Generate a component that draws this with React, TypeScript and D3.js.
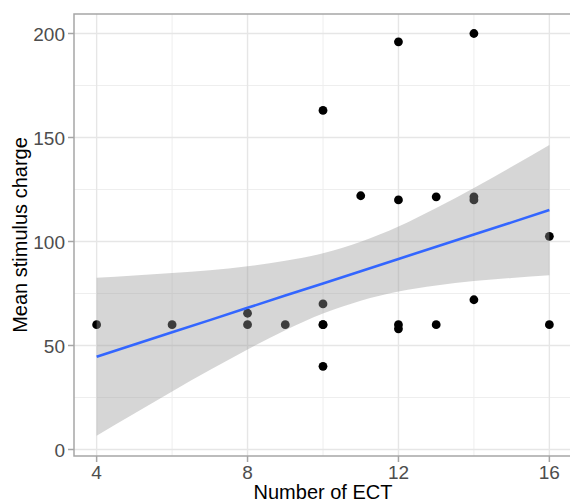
import React from "react";
import * as d3 from "d3";

// Observed points (Number of ECT, Mean stimulus charge)
const ectX = [4, 6, 8, 8, 9, 10, 10, 10, 10, 10, 11, 12, 12, 12, 12, 13, 13, 14, 14, 14, 14, 16, 16];
const chargeY = [60, 60, 60, 65.5, 60, 163, 70, 60, 60, 40, 122, 196, 120, 60, 58, 121.5, 60, 200, 121.5, 120, 72, 102.5, 60];

// Fitted line and confidence band
const fitX = [4, 5, 6, 7, 8, 9, 10, 11, 12, 13, 14, 15, 16];
const fitY = [44.6, 50.5, 56.35, 62.2, 68.1, 74.0, 79.85, 85.7, 91.6, 97.5, 103.35, 109.2, 115.1];
const bandLo = [6.6, 17.3, 27.9, 38.2, 48.1, 57.3, 65.35, 71.55, 76.0, 78.9, 80.95, 82.5, 83.8];
const bandHi = [82.6, 83.7, 84.9, 86.2, 88.1, 90.7, 94.35, 99.85, 107.2, 116.1, 125.75, 135.9, 146.4];

const xMajor = [4, 8, 12, 16];
const xMinor = [6, 10, 14];
const yMajor = [0, 50, 100, 150, 200];
const yMinor = [25, 75, 125, 175];

const W = 570;
const H = 503;
const PL = 74, PR = 572, PT = 14, PB = 456;

export default function App() {
  const x = d3.scaleLinear().domain([3.4, 16.6]).range([PL, PR]);
  const y = d3.scaleLinear().domain([0, 200]).range([449.5, 33.5]);

  const band = fitX.map((v, i) => ({ x: v, lo: bandLo[i], hi: bandHi[i], f: fitY[i] }));
  const area = d3
    .area<any>()
    .x((d) => x(d.x))
    .y0((d) => y(d.lo))
    .y1((d) => y(d.hi))
    .curve(d3.curveMonotoneX);
  const line = d3
    .line<any>()
    .x((d) => x(d.x))
    .y((d) => y(d.f));

  const font = "'Liberation Sans', Arial, Helvetica, sans-serif";

  return (
    <svg
      width={W}
      height={H}
      style={{ position: "absolute", left: 0, top: 0, background: "#fff" }}
      fontFamily={font}
    >
      <defs>
        <clipPath id="panel">
          <rect x={PL} y={PT} width={PR - PL} height={PB - PT} />
        </clipPath>
      </defs>
      <rect x={0} y={0} width={W} height={H} fill="#fff" />
      <g clipPath="url(#panel)">
        {yMinor.map((v) => (
          <line key={"ym" + v} x1={PL} x2={PR} y1={y(v)} y2={y(v)} stroke="#eeeeee" strokeWidth={1} />
        ))}
        {xMinor.map((v) => (
          <line key={"xm" + v} x1={x(v)} x2={x(v)} y1={PT} y2={PB} stroke="#eeeeee" strokeWidth={1} />
        ))}
        {yMajor.map((v) => (
          <line key={"yM" + v} x1={PL} x2={PR} y1={y(v)} y2={y(v)} stroke="#e6e6e6" strokeWidth={1.4} />
        ))}
        {xMajor.map((v) => (
          <line key={"xM" + v} x1={x(v)} x2={x(v)} y1={PT} y2={PB} stroke="#e6e6e6" strokeWidth={1.4} />
        ))}
        {ectX.map((v, i) => (
          <circle key={"p" + i} cx={x(v)} cy={y(chargeY[i])} r={4.4} fill="#000" />
        ))}
        <path d={area(band) || ""} fill="#999999" fillOpacity={0.4} />
        <path d={line(band) || ""} fill="none" stroke="#3366FF" strokeWidth={2.6} />
      </g>
      <rect x={PL} y={PT} width={PR - PL} height={PB - PT} fill="none" stroke="#a6a6a6" strokeWidth={1.5} />
      {yMajor.map((v) => (
        <g key={"yt" + v}>
          <line x1={68} x2={PL} y1={y(v)} y2={y(v)} stroke="#a6a6a6" strokeWidth={1.5} />
          <text x={65} y={y(v) + 7} textAnchor="end" fontSize={19} fill="#4d4d4d">
            {v}
          </text>
        </g>
      ))}
      {xMajor.map((v) => (
        <g key={"xt" + v}>
          <line x1={x(v)} x2={x(v)} y1={PB} y2={PB + 6} stroke="#a6a6a6" strokeWidth={1.5} />
          <text x={x(v)} y={479} textAnchor="middle" fontSize={19} fill="#4d4d4d">
            {v}
          </text>
        </g>
      ))}
      <text x={(PL + PR) / 2} y={499} textAnchor="middle" fontSize={20} fill="#000">
        Number of ECT
      </text>
      <text
        transform={`translate(27, ${(PT + PB) / 2}) rotate(-90)`}
        textAnchor="middle"
        fontSize={20}
        fill="#000"
      >
        Mean stimulus charge
      </text>
    </svg>
  );
}
